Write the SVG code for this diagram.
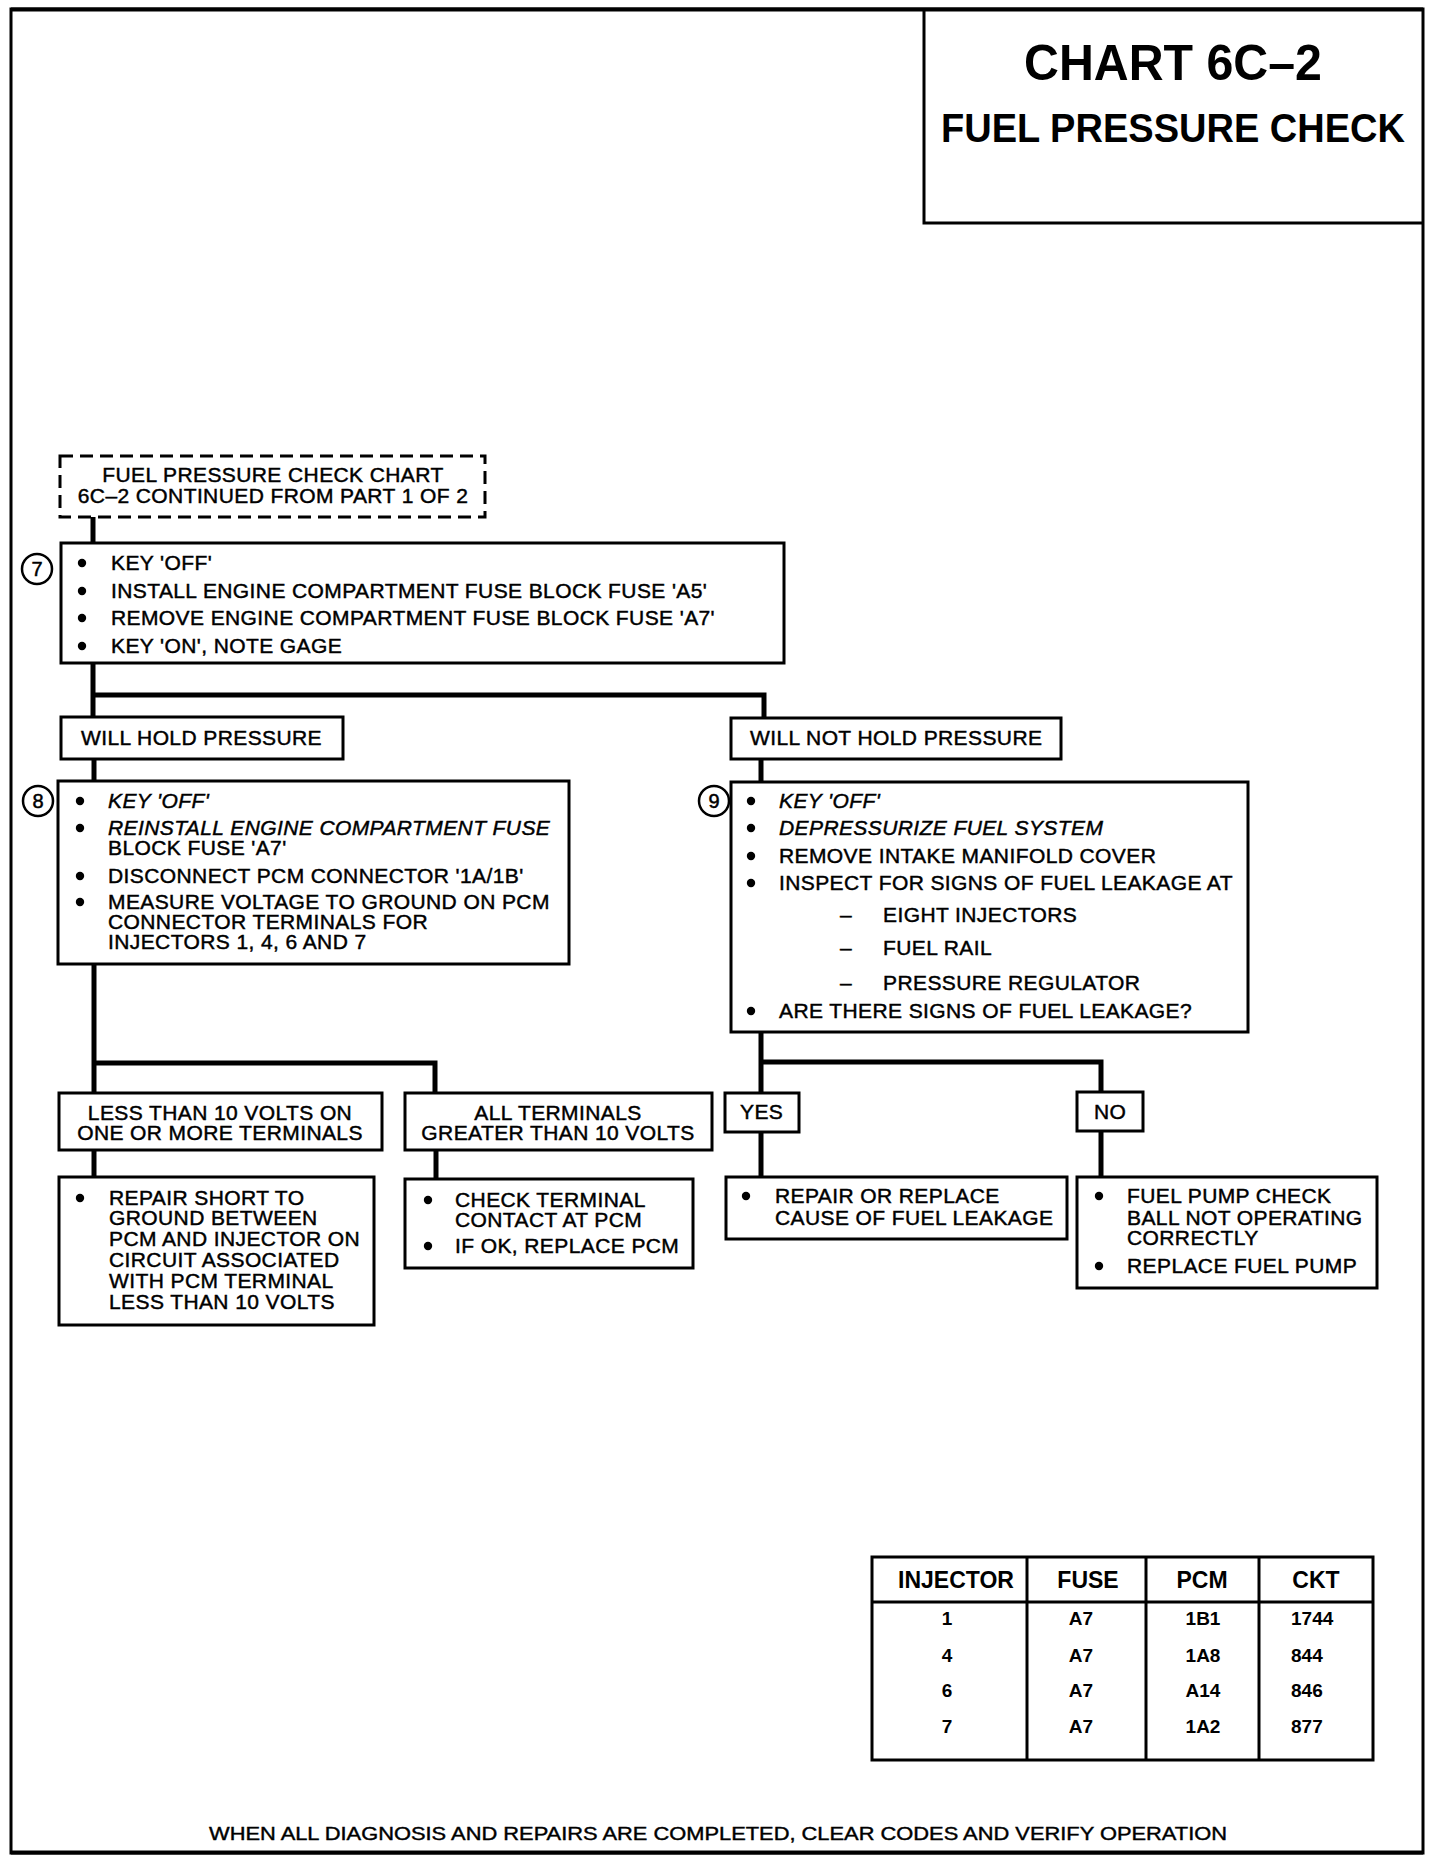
<svg xmlns="http://www.w3.org/2000/svg" width="1440" height="1862" viewBox="0 0 1440 1862">
<style>
text{font-family:"Liberation Sans",Arial,Helvetica,sans-serif;fill:#000}
.t{font-size:21px;letter-spacing:0.4px;stroke:#000;stroke-width:0.45}
.i{font-style:italic}
.c{text-anchor:middle}
.box{fill:#fff;stroke:#000;stroke-width:3}
.dash{fill:#fff;stroke:#000;stroke-width:3;stroke-dasharray:13 7}
.conn{fill:none;stroke:#000;stroke-width:5;stroke-linecap:square}
.frame{fill:none;stroke:#000;stroke-width:3}
.num{fill:#fff;stroke:#000;stroke-width:2.5}
.numt{font-size:20px;text-anchor:middle;stroke:#000;stroke-width:0.5}
.th{font-size:23px;font-weight:bold;text-anchor:middle}
.td{font-size:19px;font-weight:bold}
.ft{font-size:18px;stroke:#000;stroke-width:0.4}
</style>
<defs>
<circle id="b" r="4.2" fill="#000"/>
</defs>
<rect width="1440" height="1862" fill="#fff"/>
<g id="frame">
<rect class="frame" x="11" y="9" width="1412" height="1844"/>
<line x1="11" y1="9.5" x2="1423" y2="9.5" stroke="#000" stroke-width="4"/>
<line x1="11" y1="1852.5" x2="1423" y2="1852.5" stroke="#000" stroke-width="4"/>
</g>
<g id="title">
<path class="frame" d="M924 9 V223 H1423"/>
<text x="1173" y="80" class="c" font-size="50" font-weight="bold" textLength="298" lengthAdjust="spacingAndGlyphs">CHART 6C–2</text>
<text x="1173" y="142" class="c" font-size="40" font-weight="bold" textLength="464" lengthAdjust="spacingAndGlyphs">FUEL PRESSURE CHECK</text>
</g>
<g id="connectors">
<path class="conn" d="M93 517 V543"/>
<path class="conn" d="M93 663 V717 M93 695 H764 V718"/>
<path class="conn" d="M94 759 V781"/>
<path class="conn" d="M94 964 V1093 M94 1063 H435 V1093"/>
<path class="conn" d="M94 1150 V1177"/>
<path class="conn" d="M436 1150 V1179"/>
<path class="conn" d="M761 759 V782"/>
<path class="conn" d="M761 1032 V1093 M761 1062 H1101 V1092"/>
<path class="conn" d="M761 1132 V1177"/>
<path class="conn" d="M1101 1131 V1177"/>
</g>
<g id="start">
<rect class="dash" x="60" y="456" width="425" height="61"/>
<text class="t c" x="273" y="482">FUEL PRESSURE CHECK CHART</text>
<text class="t c" x="273" y="503">6C–2 CONTINUED FROM PART 1 OF 2</text>
</g>
<g id="step7">
<rect class="box" x="61" y="543" width="723" height="120"/>
<circle class="num" cx="37" cy="569" r="15"/>
<text class="numt" x="37" y="576">7</text>
<use href="#b" x="82" y="563"/><text class="t" x="111" y="570">KEY 'OFF'</text>
<use href="#b" x="82" y="591"/><text class="t" x="111" y="598">INSTALL ENGINE COMPARTMENT FUSE BLOCK FUSE 'A5'</text>
<use href="#b" x="82" y="618"/><text class="t" x="111" y="625">REMOVE ENGINE COMPARTMENT FUSE BLOCK FUSE 'A7'</text>
<use href="#b" x="82" y="646"/><text class="t" x="111" y="653">KEY 'ON', NOTE GAGE</text>
</g>
<g id="holds">
<rect class="box" x="61" y="717" width="282" height="42"/>
<text class="t" x="81" y="745">WILL HOLD PRESSURE</text>
</g>
<g id="step8">
<rect class="box" x="58" y="781" width="511" height="183"/>
<circle class="num" cx="38" cy="801" r="15"/>
<text class="numt" x="38" y="808">8</text>
<use href="#b" x="80" y="801"/><text class="t i" x="108" y="808">KEY 'OFF'</text>
<use href="#b" x="80" y="828"/><text class="t i" x="108" y="835">REINSTALL ENGINE COMPARTMENT FUSE</text>
<text class="t" x="108" y="855">BLOCK FUSE 'A7'</text>
<use href="#b" x="80" y="876"/><text class="t" x="108" y="883">DISCONNECT PCM CONNECTOR '1A/1B'</text>
<use href="#b" x="80" y="902"/><text class="t" x="108" y="909">MEASURE VOLTAGE TO GROUND ON PCM</text>
<text class="t" x="108" y="929">CONNECTOR TERMINALS FOR</text>
<text class="t" x="108" y="949">INJECTORS 1, 4, 6 AND 7</text>
</g>
<g id="less10">
<rect class="box" x="59" y="1093" width="323" height="57"/>
<text class="t c" x="220" y="1120">LESS THAN 10 VOLTS ON</text>
<text class="t c" x="220" y="1140">ONE OR MORE TERMINALS</text>
</g>
<g id="all10">
<rect class="box" x="405" y="1093" width="307" height="57"/>
<text class="t c" x="558" y="1120">ALL TERMINALS</text>
<text class="t c" x="558" y="1140">GREATER THAN 10 VOLTS</text>
</g>
<g id="repairShort">
<rect class="box" x="59" y="1177" width="315" height="148"/>
<use href="#b" x="80" y="1198"/>
<text class="t" x="109" y="1205">REPAIR SHORT TO</text>
<text class="t" x="109" y="1225">GROUND BETWEEN</text>
<text class="t" x="109" y="1246">PCM AND INJECTOR ON</text>
<text class="t" x="109" y="1267">CIRCUIT ASSOCIATED</text>
<text class="t" x="109" y="1288">WITH PCM TERMINAL</text>
<text class="t" x="109" y="1309">LESS THAN 10 VOLTS</text>
</g>
<g id="checkTerminal">
<rect class="box" x="405" y="1179" width="288" height="89"/>
<use href="#b" x="428" y="1200"/>
<text class="t" x="455" y="1207">CHECK TERMINAL</text>
<text class="t" x="455" y="1227">CONTACT AT PCM</text>
<use href="#b" x="428" y="1246"/>
<text class="t" x="455" y="1253">IF OK, REPLACE PCM</text>
</g>
<g id="notHolds">
<rect class="box" x="731" y="718" width="330" height="41"/>
<text class="t" x="750" y="745">WILL NOT HOLD PRESSURE</text>
</g>
<g id="step9">
<rect class="box" x="731" y="782" width="517" height="250"/>
<circle class="num" cx="714" cy="801" r="15"/>
<text class="numt" x="714" y="808">9</text>
<use href="#b" x="751" y="801"/><text class="t i" x="779" y="808">KEY 'OFF'</text>
<use href="#b" x="751" y="828"/><text class="t i" x="779" y="835">DEPRESSURIZE FUEL SYSTEM</text>
<use href="#b" x="751" y="856"/><text class="t" x="779" y="863">REMOVE INTAKE MANIFOLD COVER</text>
<use href="#b" x="751" y="883"/><text class="t" x="779" y="890">INSPECT FOR SIGNS OF FUEL LEAKAGE AT</text>
<text class="t" x="840" y="922">–</text><text class="t" x="883" y="922">EIGHT INJECTORS</text>
<text class="t" x="840" y="955">–</text><text class="t" x="883" y="955">FUEL RAIL</text>
<text class="t" x="840" y="990">–</text><text class="t" x="883" y="990">PRESSURE REGULATOR</text>
<use href="#b" x="751" y="1011"/><text class="t" x="779" y="1018">ARE THERE SIGNS OF FUEL LEAKAGE?</text>
</g>
<g id="yes">
<rect class="box" x="725" y="1093" width="74" height="39"/>
<text class="t" x="740" y="1119">YES</text>
</g>
<g id="no">
<rect class="box" x="1077" y="1092" width="66" height="39"/>
<text class="t" x="1094" y="1119">NO</text>
</g>
<g id="repairLeak">
<rect class="box" x="726" y="1177" width="341" height="62"/>
<use href="#b" x="746" y="1196"/>
<text class="t" x="775" y="1203">REPAIR OR REPLACE</text>
<text class="t" x="775" y="1225">CAUSE OF FUEL LEAKAGE</text>
</g>
<g id="fuelPump">
<rect class="box" x="1077" y="1177" width="300" height="111"/>
<use href="#b" x="1099" y="1196"/>
<text class="t" x="1127" y="1203">FUEL PUMP CHECK</text>
<text class="t" x="1127" y="1225">BALL NOT OPERATING</text>
<text class="t" x="1127" y="1245">CORRECTLY</text>
<use href="#b" x="1099" y="1266"/>
<text class="t" x="1127" y="1273">REPLACE FUEL PUMP</text>
</g>
<g id="table">
<rect class="box" x="872" y="1557" width="501" height="203"/>
<line x1="872" y1="1602" x2="1373" y2="1602" stroke="#000" stroke-width="3"/>
<line x1="1027" y1="1557" x2="1027" y2="1760" stroke="#000" stroke-width="3"/>
<line x1="1146" y1="1557" x2="1146" y2="1760" stroke="#000" stroke-width="3"/>
<line x1="1259" y1="1557" x2="1259" y2="1760" stroke="#000" stroke-width="3"/>
<text class="th" x="956" y="1588">INJECTOR</text>
<text class="th" x="1088" y="1588">FUSE</text>
<text class="th" x="1202" y="1588">PCM</text>
<text class="th" x="1316" y="1588">CKT</text>
<g class="td" text-anchor="middle">
<text x="947" y="1625">1</text><text x="1081" y="1625">A7</text><text x="1203" y="1625">1B1</text>
<text x="947" y="1662">4</text><text x="1081" y="1662">A7</text><text x="1203" y="1662">1A8</text>
<text x="947" y="1697">6</text><text x="1081" y="1697">A7</text><text x="1203" y="1697">A14</text>
<text x="947" y="1733">7</text><text x="1081" y="1733">A7</text><text x="1203" y="1733">1A2</text>
</g>
<g class="td">
<text x="1291" y="1625">1744</text>
<text x="1291" y="1662">844</text>
<text x="1291" y="1697">846</text>
<text x="1291" y="1733">877</text>
</g>
</g>
<g id="footer">
<text x="718" y="1840" class="c ft" textLength="1018" lengthAdjust="spacingAndGlyphs">WHEN ALL DIAGNOSIS AND REPAIRS ARE COMPLETED, CLEAR CODES AND VERIFY OPERATION</text>
</g>
</svg>
